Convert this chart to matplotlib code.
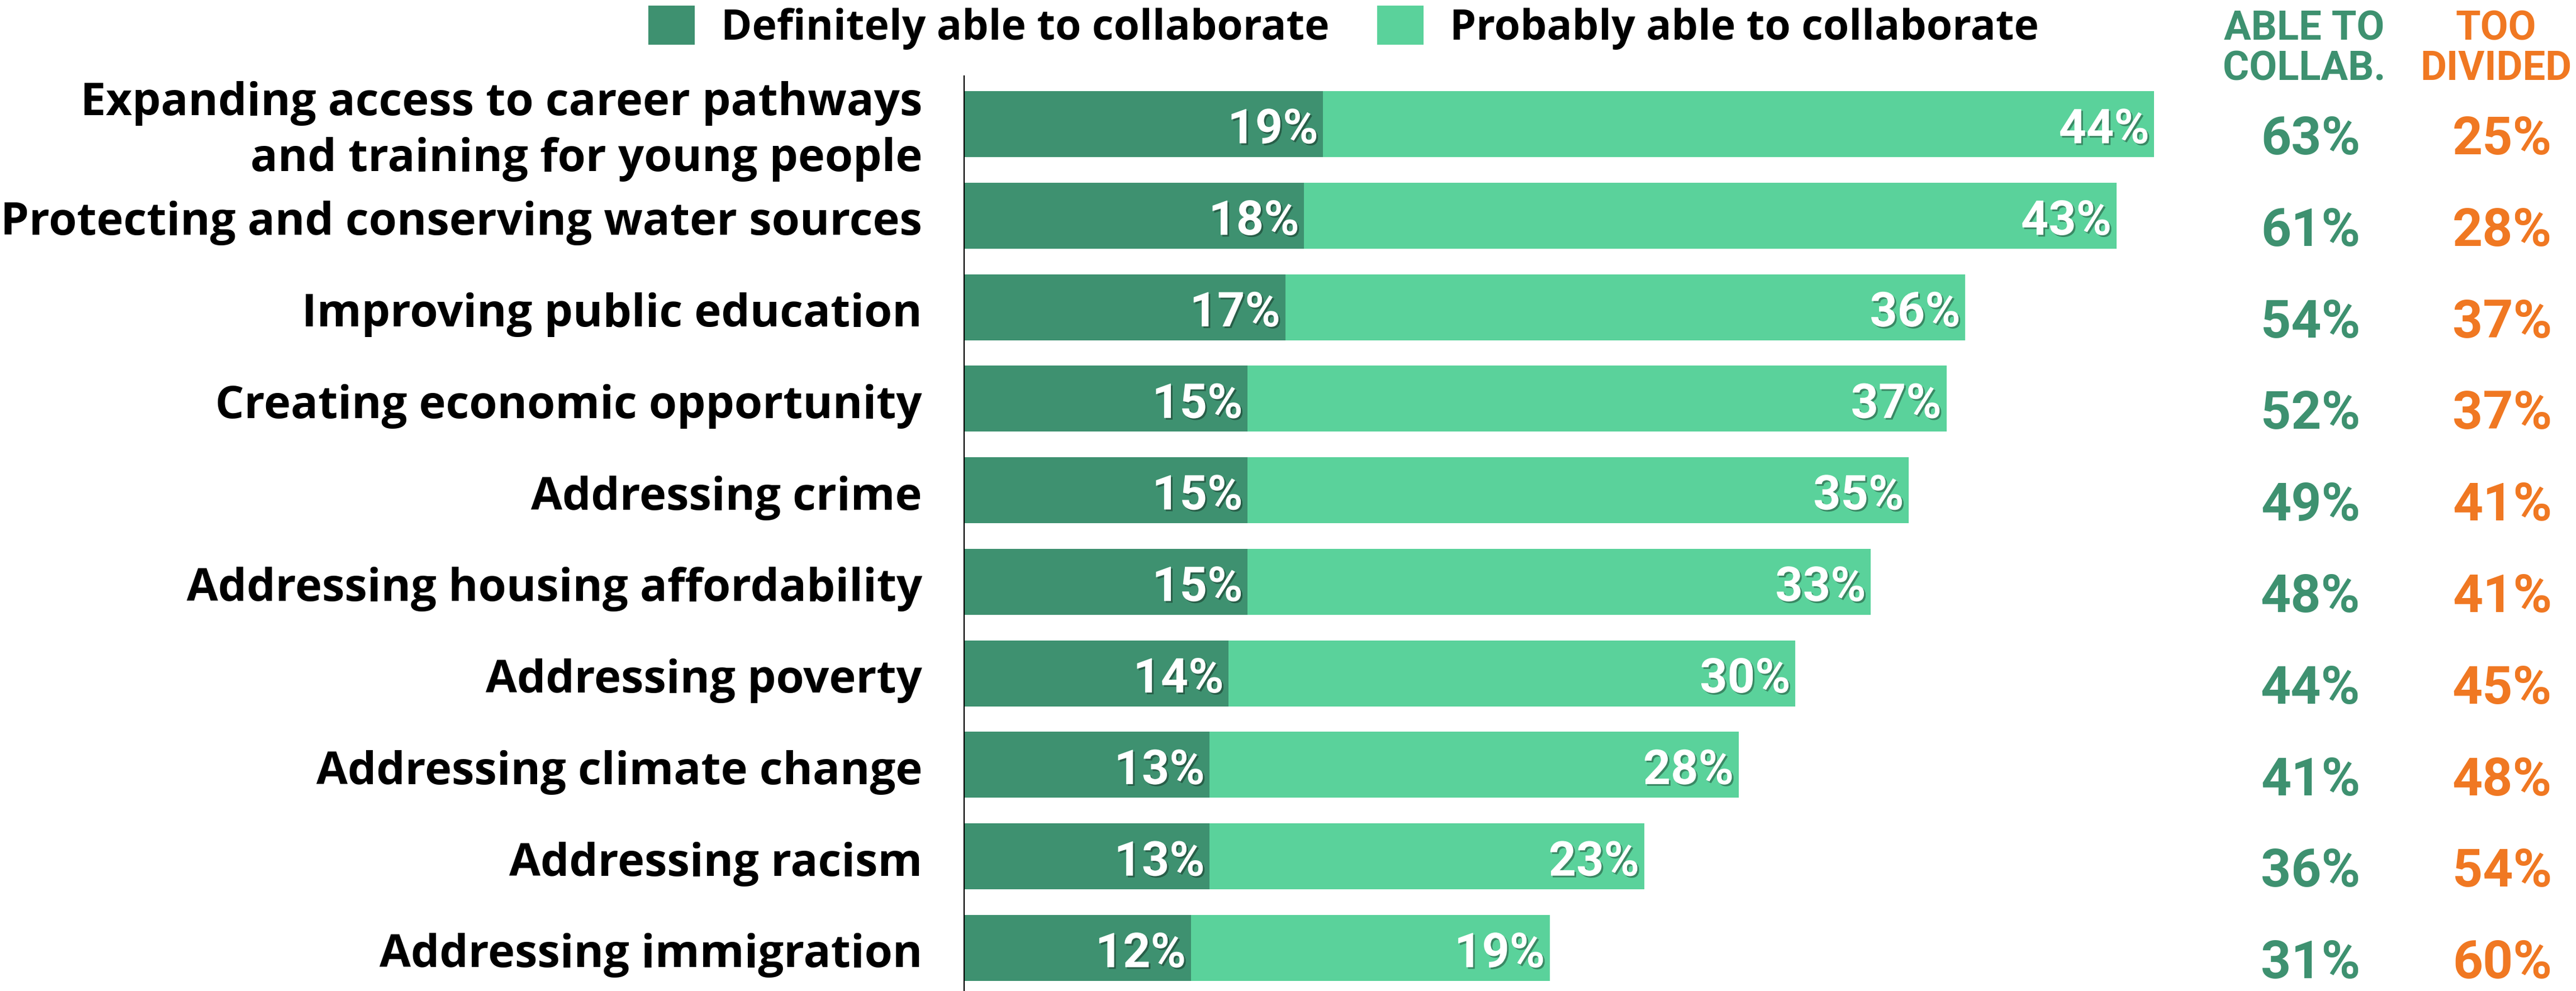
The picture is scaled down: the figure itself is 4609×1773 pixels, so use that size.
import matplotlib
matplotlib.use("Agg")
import matplotlib.pyplot as plt
import matplotlib.patheffects as pe
from matplotlib import transforms

plt.rcParams['font.family'] = ['Roboto', 'DejaVu Sans']
plt.rcParams['font.weight'] = 'bold'
LABEL_FONT = ['Open Sans', 'DejaVu Sans']

categories = [
    "Expanding access to career pathways\nand training for young people",
    "Protecting and conserving water sources",
    "Improving public education",
    "Creating economic opportunity",
    "Addressing crime",
    "Addressing housing affordability",
    "Addressing poverty",
    "Addressing climate change",
    "Addressing racism",
    "Addressing immigration",
]
definitely = [19, 18, 17, 15, 15, 15, 14, 13, 13, 12]
probably = [44, 43, 36, 37, 35, 33, 30, 28, 23, 19]
able_to_collab = [63, 61, 54, 52, 49, 48, 44, 41, 36, 31]
too_divided = [25, 28, 37, 37, 41, 41, 45, 48, 54, 60]
series_names = ["Definitely able to collaborate", "Probably able to collaborate"]
col_headers = [["ABLE TO", "COLLAB."], ["TOO", "DIVIDED"]]

DARK = "#3E9170"
LIGHT = "#5AD29B"
ORANGE = "#F07822"

W, H = 4609, 1773
DPI = 100
fig = plt.figure(figsize=(W / DPI, H / DPI), dpi=DPI)
fig.patch.set_facecolor("white")

x0 = 1725
pxper = 33.8
xmax = 65
ax = fig.add_axes([x0 / W, 0, xmax * pxper / W, (H - 136) / H])
ax.set_xlim(0, xmax)
ax.set_ylim(9.47, -0.525)

y = list(range(len(categories)))
b1 = ax.barh(y, definitely, height=0.72, color=DARK, label=series_names[0])
b2 = ax.barh(y, probably, left=definitely, height=0.72, color=LIGHT, label=series_names[1])

for s in ["top", "right", "bottom"]:
    ax.spines[s].set_visible(False)
ax.spines["left"].set_linewidth(1.6)
ax.spines["left"].set_color("black")
ax.set_xticks([])
ax.set_yticks([])

shadow = [pe.SimplePatchShadow(offset=(2.2, -2.2), shadow_rgbFace=(0, 0, 0), alpha=0.35), pe.Normal()]
pad = 0.25
for i in y:
    d = definitely[i]
    p = probably[i]
    ax.text(d - pad, i + 0.21, f"{d}%", ha="right", va="baseline", color="white",
            fontsize=62, fontweight="bold", path_effects=shadow)
    ax.text(d + p - pad, i + 0.21, f"{p}%", ha="right", va="baseline", color="white",
            fontsize=62, fontweight="bold", path_effects=shadow)

# category labels
lab_x = -75 / pxper
for i, cat in enumerate(categories):
    lines = cat.split("\n")
    n = len(lines)
    for j, ln in enumerate(lines):
        yy = i + 0.21 + (j - (n - 1) / 2) * 0.61
        ax.text(lab_x, yy, ln, ha="right", va="baseline", color="black",
                fontsize=58.5, fontweight="bold", family=LABEL_FONT, clip_on=False)

# right columns
trans = transforms.blended_transform_factory(fig.transFigure, ax.transData)
col_x = [4134 / W, 4477 / W]
for i in y:
    ax.text(col_x[0], i + 0.33, f"{able_to_collab[i]}%", transform=trans, ha="center",
            va="baseline", color=DARK, fontsize=68, fontweight="bold", clip_on=False)
    ax.text(col_x[1], i + 0.33, f"{too_divided[i]}%", transform=trans, ha="center",
            va="baseline", color=ORANGE, fontsize=68, fontweight="bold", clip_on=False)

hdr_x = [4123 / W, 4466 / W]
hdr_colors = [DARK, ORANGE]
for k in range(2):
    fig.text(hdr_x[k], 1 - 72 / H, col_headers[k][0], ha="center", va="baseline",
             color=hdr_colors[k], fontsize=52, fontweight="bold")
    fig.text(hdr_x[k], 1 - 143 / H, col_headers[k][1], ha="center", va="baseline",
             color=hdr_colors[k], fontsize=52, fontweight="bold")

fs_leg = 54
fig.legend(handles=[b1, b2], labels=series_names, loc="upper left",
           bbox_to_anchor=(1160 / W, 1 - 10 / H), ncol=2, frameon=False,
           prop={"size": fs_leg, "weight": "bold", "family": LABEL_FONT},
           borderpad=0, borderaxespad=0,
           handlelength=83 / (fs_leg * DPI / 72), handleheight=80 / (fs_leg * DPI / 72),
           handletextpad=0.62, columnspacing=1.15)

fig.savefig("out.png", dpi=DPI, facecolor="white")
